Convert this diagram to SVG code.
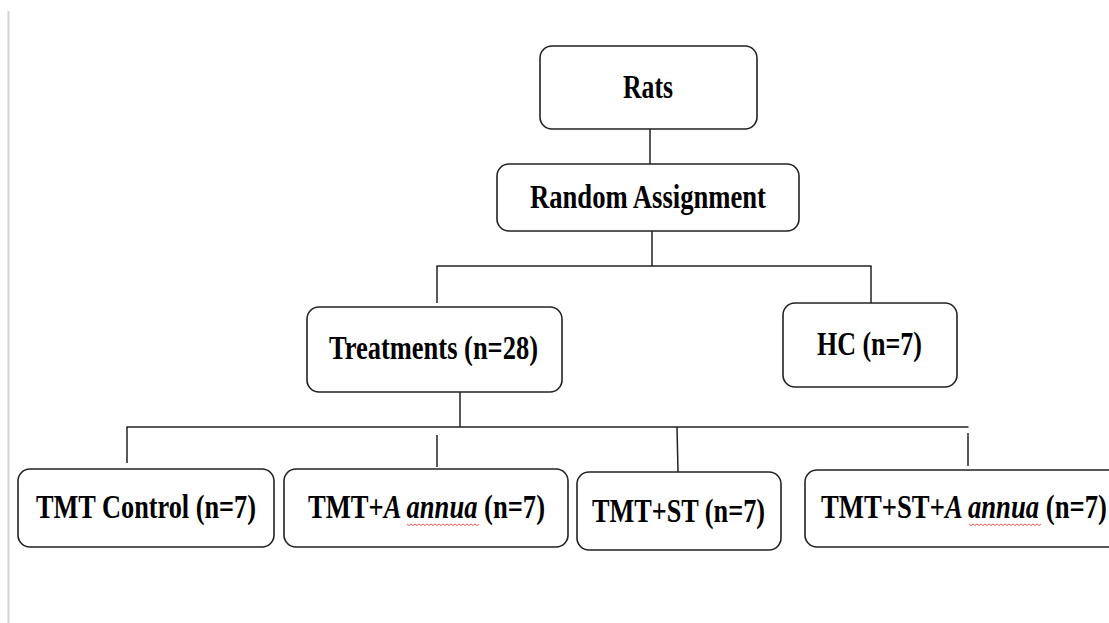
<svg xmlns="http://www.w3.org/2000/svg" width="1109" height="623" viewBox="0 0 1109 623">
<style>
.box{fill:#fff;stroke:#222;stroke-width:1.6}
.lbl{font-family:"Liberation Serif","Times New Roman",serif;font-weight:bold;font-size:33px;fill:#000}
.it{font-style:italic}
.con line{stroke:#222;stroke-width:1.5}
.sq{fill:none;stroke:#e03030;stroke-width:0.8}
</style>
<rect width="1109" height="623" fill="#fff"/>
<line x1="8.5" y1="11" x2="8.5" y2="623" stroke="#d4d4d4" stroke-width="2"/>
<g class="con" id="connectors">
<line x1="650" y1="129" x2="650" y2="164"/>
<line x1="652" y1="231" x2="652" y2="266"/>
<line x1="436.5" y1="266" x2="871.5" y2="266"/>
<line x1="437" y1="266" x2="437" y2="303"/>
<line x1="871" y1="266" x2="871" y2="303"/>
<line x1="460" y1="392" x2="460" y2="427"/>
<line x1="126.5" y1="427" x2="968.5" y2="427"/>
<line x1="127" y1="427" x2="127" y2="463"/>
<line x1="437" y1="435" x2="437" y2="467"/>
<line x1="677" y1="427" x2="678" y2="472"/>
<line x1="968" y1="433" x2="968" y2="466"/>
</g>
<g id="rats"><rect class="box" x="540" y="46" width="217" height="83" rx="12"/><text class="lbl" x="623" y="98" textLength="50" lengthAdjust="spacingAndGlyphs">Rats</text></g>
<g id="random"><rect class="box" x="497" y="164" width="302" height="67" rx="12"/><text class="lbl" x="530" y="208" textLength="236" lengthAdjust="spacingAndGlyphs">Random Assignment</text></g>
<g id="treatments"><rect class="box" x="307" y="307" width="255" height="85" rx="12"/><text class="lbl" x="329" y="359" textLength="209" lengthAdjust="spacingAndGlyphs">Treatments (n=28)</text></g>
<g id="hc"><rect class="box" x="783" y="303" width="174" height="84" rx="12"/><text class="lbl" x="817" y="355" textLength="105" lengthAdjust="spacingAndGlyphs">HC (n=7)</text></g>
<g id="tmt-control"><rect class="box" x="18" y="469" width="256" height="78" rx="12"/><text class="lbl" x="36" y="518" textLength="220" lengthAdjust="spacingAndGlyphs">TMT Control (n=7)</text></g>
<g id="tmt-annua"><rect class="box" x="284" y="469" width="284" height="78" rx="12"/><text class="lbl" x="308" y="518" textLength="237" lengthAdjust="spacingAndGlyphs">TMT+<tspan class="it">A annua</tspan> (n=7)</text>
<path class="sq" d="M407 524 l2 1.5 l2 -1.5 l2 1.5 l2 -1.5 l2 1.5 l2 -1.5 l2 1.5 l2 -1.5 l2 1.5 l2 -1.5 l2 1.5 l2 -1.5 l2 1.5 l2 -1.5 l2 1.5 l2 -1.5 l2 1.5 l2 -1.5 l2 1.5 l2 -1.5 l2 1.5 l2 -1.5 l2 1.5 l2 -1.5 l2 1.5 l2 -1.5 l2 1.5 l2 -1.5 l2 1.5 l2 -1.5 l2 1.5 l2 -1.5 l2 1.5 l2 -1.5 l2 1.5 l2 -1.5"/></g>
<g id="tmt-st"><rect class="box" x="577" y="472" width="204" height="78" rx="12"/><text class="lbl" x="592" y="522" textLength="173" lengthAdjust="spacingAndGlyphs">TMT+ST (n=7)</text></g>
<g id="tmt-st-annua"><rect class="box" x="805" y="470" width="320" height="77" rx="12"/><text class="lbl" x="821" y="518" textLength="286" lengthAdjust="spacingAndGlyphs">TMT+ST+<tspan class="it">A annua</tspan> (n=7)</text>
<path class="sq" d="M969 524 l2 1.5 l2 -1.5 l2 1.5 l2 -1.5 l2 1.5 l2 -1.5 l2 1.5 l2 -1.5 l2 1.5 l2 -1.5 l2 1.5 l2 -1.5 l2 1.5 l2 -1.5 l2 1.5 l2 -1.5 l2 1.5 l2 -1.5 l2 1.5 l2 -1.5 l2 1.5 l2 -1.5 l2 1.5 l2 -1.5 l2 1.5 l2 -1.5 l2 1.5 l2 -1.5 l2 1.5 l2 -1.5 l2 1.5 l2 -1.5 l2 1.5 l2 -1.5 l2 1.5 l2 -1.5"/></g>
</svg>
